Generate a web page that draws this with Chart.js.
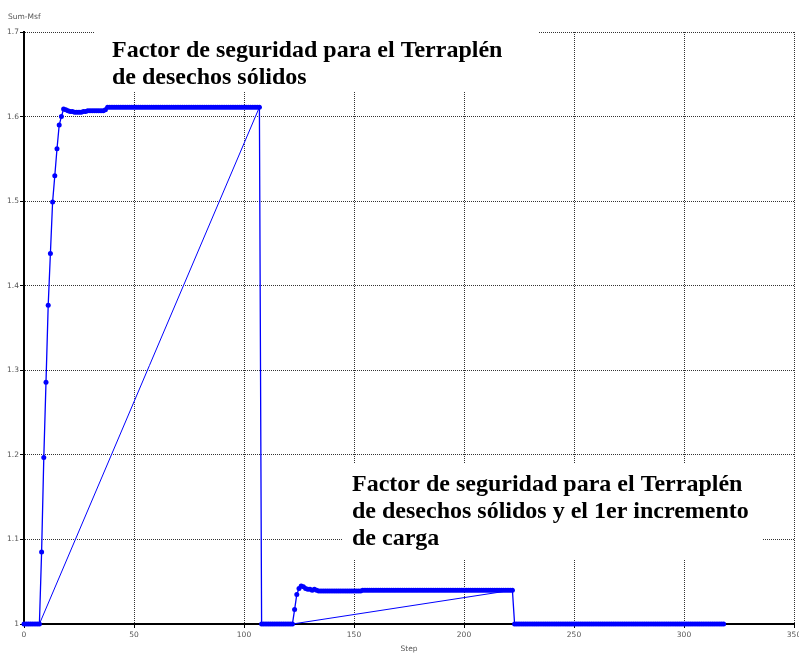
<!DOCTYPE html>
<html>
<head>
<meta charset="utf-8">
<script src="https://cdn.jsdelivr.net/npm/chart.js@4"></script>
<style>
  html, body { margin: 0; padding: 0; background: #fff; overflow: hidden; }
  #wrap { width: 815px; height: 656px; }
</style>
</head>
<body>
<div id="wrap"><canvas id="chart" width="815" height="656"></canvas></div>
<script>
// x ticks / y ticks
const xTicks = [0, 50, 100, 150, 200, 250, 300, 350];
const yTicks = [1, 1.1, 1.2, 1.3, 1.4, 1.5, 1.6, 1.7];
const yTickLabels = ["1", "1.1", "1.2", "1.3", "1.4", "1.5", "1.6", "1.7"];

// Sum-Msf history, one value per step; each stage starts at stageStart[i]
const stageStart = [0, 108, 223];
const stage1Msf = [
  1, 1, 1, 1, 1, 1, 1, 1,
  1.085, 1.197, 1.286, 1.377, 1.438, 1.499, 1.530, 1.562, 1.590, 1.600,
  1.609, 1.608, 1.607, 1.606, 1.606, 1.605, 1.605, 1.605, 1.605, 1.606,
  1.606, 1.607, 1.607, 1.607, 1.607, 1.607, 1.607, 1.607, 1.607, 1.608,
  1.611, 1.611, 1.611, 1.611, 1.611, 1.611, 1.611, 1.611, 1.611, 1.611,
  1.611, 1.611, 1.611, 1.611, 1.611, 1.611, 1.611, 1.611, 1.611, 1.611,
  1.611, 1.611, 1.611, 1.611, 1.611, 1.611, 1.611, 1.611, 1.611, 1.611,
  1.611, 1.611, 1.611, 1.611, 1.611, 1.611, 1.611, 1.611, 1.611, 1.611,
  1.611, 1.611, 1.611, 1.611, 1.611, 1.611, 1.611, 1.611, 1.611, 1.611,
  1.611, 1.611, 1.611, 1.611, 1.611, 1.611, 1.611, 1.611, 1.611, 1.611,
  1.611, 1.611, 1.611, 1.611, 1.611, 1.611, 1.611, 1.611, 1.611, 1.611
];
const stage2Msf = [
  1, 1, 1, 1, 1, 1, 1, 1, 1, 1, 1, 1, 1, 1, 1,
  1.017, 1.035, 1.042, 1.045, 1.044, 1.042, 1.041, 1.041, 1.040, 1.041, 1.040,
  1.039, 1.039, 1.039, 1.039, 1.039, 1.039, 1.039, 1.039, 1.039, 1.039,
  1.039, 1.039, 1.039, 1.039, 1.039, 1.039, 1.039, 1.039, 1.039, 1.039,
  1.040, 1.040, 1.040, 1.040, 1.040, 1.040, 1.040, 1.040, 1.040, 1.040,
  1.040, 1.040, 1.040, 1.040, 1.040, 1.040, 1.040, 1.040, 1.040, 1.040,
  1.040, 1.040, 1.040, 1.040, 1.040, 1.040, 1.040, 1.040, 1.040, 1.040,
  1.040, 1.040, 1.040, 1.040, 1.040, 1.040, 1.040, 1.040, 1.040, 1.040,
  1.040, 1.040, 1.040, 1.040, 1.040, 1.040, 1.040, 1.040, 1.040, 1.040,
  1.040, 1.040, 1.040, 1.040, 1.040, 1.040, 1.040, 1.040, 1.040, 1.040,
  1.040, 1.040, 1.040, 1.040, 1.040, 1.040, 1.040, 1.040, 1.040
];
const stage3Msf = [
  1, 1, 1, 1, 1, 1, 1, 1, 1, 1, 1, 1, 1, 1, 1, 1,
  1, 1, 1, 1, 1, 1, 1, 1, 1, 1, 1, 1, 1, 1, 1, 1,
  1, 1, 1, 1, 1, 1, 1, 1, 1, 1, 1, 1, 1, 1, 1, 1,
  1, 1, 1, 1, 1, 1, 1, 1, 1, 1, 1, 1, 1, 1, 1, 1,
  1, 1, 1, 1, 1, 1, 1, 1, 1, 1, 1, 1, 1, 1, 1, 1,
  1, 1, 1, 1, 1, 1, 1, 1, 1, 1, 1, 1, 1, 1, 1, 1
];

// straight lines joining the start of each rise to the end of its plateau
const joinFrom = [[7, 1.0], [122, 1.0]];
const joinTo = [[107, 1.611], [222, 1.040]];

const note1 = ["Factor de seguridad para el Terraplén", "de desechos sólidos"];
const note2 = ["Factor de seguridad para el Terraplén", "de desechos sólidos y el 1er incremento", "de carga"];

const historyPoints = [];
[stage1Msf, stage2Msf, stage3Msf].forEach((vals, s) => {
  vals.forEach((v, i) => historyPoints.push({ x: stageStart[s] + i, y: v }));
});

const joinSets = joinFrom.map((p, i) => ({
  data: [{ x: p[0], y: p[1] }, { x: joinTo[i][0], y: joinTo[i][1] }],
  borderColor: "#0000ff",
  borderWidth: 1,
  pointRadius: 0,
  fill: false,
  tension: 0,
  clip: false
}));

const labelFont = { family: "'DejaVu Sans', sans-serif", size: 7.5 };

const notesPlugin = {
  id: "notes",
  afterDatasetsDraw(chart) {
    const ctx = chart.ctx;
    ctx.save();
    ctx.fillStyle = "#fff";
    ctx.fillRect(95, 24, 443, 68);
    ctx.fillRect(342, 464, 420, 96);
    ctx.fillStyle = "#000";
    ctx.font = "bold 24px 'Liberation Serif', 'Times New Roman', serif";
    ctx.textAlign = "left";
    ctx.textBaseline = "alphabetic";
    note1.forEach((t, i) => ctx.fillText(t, 112, 57 + i * 26.5));
    note2.forEach((t, i) => ctx.fillText(t, 352, 491 + i * 27));

    ctx.fillStyle = "#555";
    ctx.font = "7.5px 'DejaVu Sans', sans-serif";
    ctx.textBaseline = "middle";
    ctx.fillText("Sum-Msf", 8, 17);
    ctx.textAlign = "center";
    const a = chart.chartArea;
    ctx.fillText("Step", (a.left + a.right) / 2, 649);
    ctx.restore();
  }
};

new Chart(document.getElementById("chart"), {
  type: "line",
  data: {
    datasets: [{
      data: historyPoints,
      borderColor: "#0000ff",
      backgroundColor: "#0000ff",
      borderWidth: 1.3,
      pointRadius: 2.5,
      pointBorderWidth: 0,
      pointBackgroundColor: "#0000ff",
      fill: false,
      tension: 0,
      clip: false
    }, ...joinSets]
  },
  options: {
    responsive: false,
    animation: false,
    layout: { padding: { top: 32, right: 21, left: 0, bottom: 0 } },
    plugins: { legend: { display: false }, tooltip: { enabled: false } },
    scales: {
      x: {
        type: "linear",
        min: 0,
        max: 350,
        afterBuildTicks: (s) => { s.ticks = xTicks.map((v) => ({ value: v })); },
        afterFit: (s) => { s.height = 32; },
        ticks: { font: labelFont, color: "#555", padding: 3, maxRotation: 0 },
        grid: { color: "#333", lineWidth: 1, tickLength: 4, tickColor: "#000", tickBorderDash: [] },
        border: { display: true, color: "#000", width: 2, dash: [1, 1] }
      },
      y: {
        min: 1,
        max: 1.7,
        afterBuildTicks: (s) => { s.ticks = yTicks.map((v) => ({ value: v })); },
        afterFit: (s) => { s.width = 24; },
        ticks: {
          font: labelFont,
          color: "#555",
          padding: 1,
          callback: (v, i) => yTickLabels[i]
        },
        grid: { color: "#333", lineWidth: 1, tickLength: 4, tickColor: "#000", tickBorderDash: [] },
        border: { display: true, color: "#000", width: 2, dash: [1, 1] }
      }
    }
  },
  plugins: [notesPlugin]
});
</script>
</body>
</html>
